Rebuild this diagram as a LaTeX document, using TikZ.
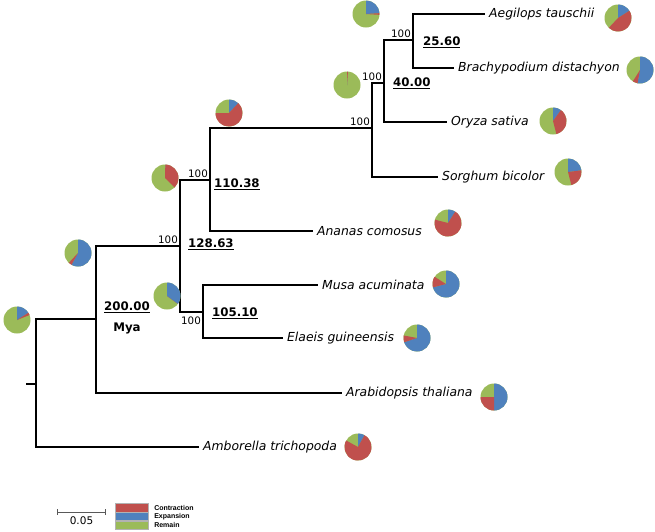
\documentclass[tikz,border=0pt]{standalone}
\usepackage{fontspec}
\setmainfont{DejaVu Sans}
\newfontfamily\legfont{Liberation Sans}
\usetikzlibrary{calc}

\definecolor{expcol}{HTML}{4F81BD}
\definecolor{concol}{HTML}{C0504D}
\definecolor{remcol}{HTML}{9BBB59}

% pie at #1: expansion #2, contraction #3, rest is remain
\newcommand{\genepie}[3]{%
  \pgfmathsetmacro{\angA}{90-360*#2}%
  \pgfmathsetmacro{\angB}{\angA-360*#3}%
  \fill[remcol] (#1) circle[radius=13.5pt];
  \fill[expcol] (#1) -- ++(90:13.5pt) arc[start angle=90,end angle=\angA,radius=13.5pt] -- cycle;
  \fill[concol] (#1) -- ++(\angA:13.5pt) arc[start angle=\angA,end angle=\angB,radius=13.5pt] -- cycle;
}

\begin{document}
\begin{tikzpicture}[x=1pt,y=-1pt,line width=2.3pt,
  taxon/.style={anchor=west,inner sep=3pt,font=\fontsize{12.4}{14}\selectfont\itshape},
  age/.style={inner sep=0pt,font=\fontsize{11.8}{14}\selectfont\bfseries},
  boot/.style={inner sep=1pt,font=\fontsize{10.3}{12}\selectfont},
  legbox/.style={minimum width=33pt,minimum height=8.5pt,inner sep=0pt,draw=gray!60,line width=0.3pt},
  legtxt/.style={anchor=west,inner sep=0pt,font=\legfont\bfseries\fontsize{7}{8}\selectfont}]
\useasboundingbox (0,0) rectangle (655,531);

% internal nodes
\coordinate (stub) at (26,384);
\coordinate (r) at (36,384);
\coordinate (n1) at (96,319);
\coordinate (n2) at (180,246);
\coordinate (n3) at (210,180);
\coordinate (n4) at (372,128);
\coordinate (n5) at (384,83);
\coordinate (n6) at (413,40);
\coordinate (n7) at (203,312);

% leaves
\foreach \name/\x/\y/\txt in {aeg/485/14/Aegilops tauschii,bra/454/68/Brachypodium distachyon,
  ory/447/122/Oryza sativa,sor/438/177/Sorghum bicolor,ana/313/231/Ananas comosus,
  mus/318/285/Musa acuminata,ela/283/338/Elaeis guineensis,ara/342/393/Arabidopsis thaliana,
  amb/199/447/Amborella trichopoda}{
  \coordinate (\name) at (\x,\y);
  \node[taxon] (\name-lab) at (\name) {\txt};
}

% branches
\draw (stub) -- (r);
\draw (r) |- (n1); \draw (r) |- (amb);
\draw (n1) |- (n2); \draw (n1) |- (ara);
\draw (n2) |- (n3); \draw (n2) |- (n7);
\draw (n3) |- (n4); \draw (n3) |- (ana);
\draw (n4) |- (n5); \draw (n4) |- (sor);
\draw (n5) |- (n6); \draw (n5) |- (ory);
\draw (n6) |- (aeg); \draw (n6) |- (bra);
\draw (n7) |- (mus); \draw (n7) |- (ela);

% bootstrap values
\node[boot,anchor=south east] (b6) at (n6) {100};
\node[boot,anchor=south east] (b5) at (n5) {100};
\node[boot,anchor=south east] (b4) at (n4) {100};
\node[boot,anchor=south east] (b3) at (n3) {100};
\node[boot,anchor=south east] (b2) at (n2) {100};
\node[boot,anchor=north east] (b7) at ($(n7)+(0,3)$) {100};

% divergence times
\node[age,anchor=west] (t6) at ($(n6)+(9,2)$) {\underline{25.60}};
\node[age,anchor=west] (t5) at ($(n5)+(8,0)$) {\underline{40.00}};
\node[age,anchor=west] (t3) at ($(n3)+(3,4)$) {\underline{110.38}};
\node[age,anchor=west] (t2) at ($(n2)+(7,-2)$) {\underline{128.63}};
\node[age,anchor=west] (t7) at ($(n7)+(8,1)$) {\underline{105.10}};
\node[age] (t1) at ($(n1)+(31,-12)$) {\underline{200.00}};
\node[age] (mya) at ($(n1)+(31,9)$) {Mya};

% gene family pies
\foreach \i/\x/\y/\e/\c in {1/618/18/0.16/0.46,2/640/70/0.53/0.06,3/366/14/0.24/0.02,
  4/347/85/0.003/0.008,5/553/121/0.10/0.36,6/568/172/0.23/0.23,7/229/113/0.12/0.63,
  8/165/178/0.004/0.37,9/448/223/0.09/0.70,10/78/253/0.58/0.04,11/167/296/0.35/0,
  12/446/284/0.71/0.13,13/417/338/0.70/0.08,14/17/320/0.16/0.03,15/494/397/0.50/0.25,
  16/358/447/0.08/0.75}{
  \coordinate (pie\i) at (\x,\y);
  \genepie{pie\i}{\e}{\c}
}

% scale bar
\coordinate (sb0) at (57,512);
\coordinate (sb1) at (106,512);
\draw[gray!70!black,line width=0.6pt,|-|] (sb0) -- (sb1);
\node[inner sep=0pt,font=\fontsize{10.5}{12}\selectfont] (sblab) at ($(sb0)!0.5!(sb1)+(0,9)$) {0.05};

% legend
\node[legbox,fill=concol] (lcon) at (131.5,507.5) {};
\node[legbox,fill=expcol,anchor=north] (lexp) at (lcon.south) {};
\node[legbox,fill=remcol,anchor=north] (lrem) at (lexp.south) {};
\node[legtxt] (lcontxt) at ($(lcon.east)+(5,0)$) {Contraction};
\node[legtxt] (lexptxt) at ($(lexp.east)+(5,0)$) {Expansion};
\node[legtxt] (lremtxt) at ($(lrem.east)+(5,0)$) {Remain};
\end{tikzpicture}
\end{document}
